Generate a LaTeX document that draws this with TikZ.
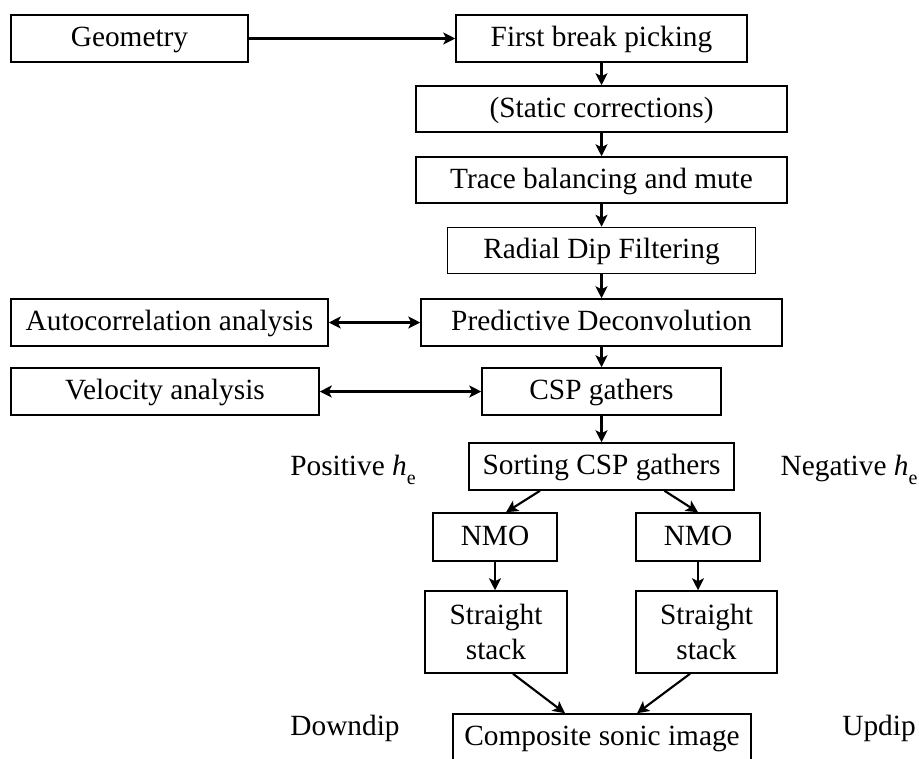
\documentclass[tikz,border=0pt]{standalone}
\usepackage{fontspec}
\setmainfont{Liberation Serif}
\usetikzlibrary{arrows.meta,calc}
\newcommand\pxu[1]{#1*0.75pt}
\newcommand\hsub{\textit{h}\raisebox{-0.28em}{\fontsize{15}{15}\selectfont e}}
\begin{document}
\begin{tikzpicture}[x=0.75pt,y=-0.75pt,
  every node/.style={font=\fontsize{22}{26}\selectfont},
  box/.style={draw,line width=1.15pt,inner sep=0pt,align=center,minimum height=\pxu{47}},
  oneline/.style={box,text height=15.8pt,text depth=3.3pt},
  lbl/.style={inner sep=0pt},
  flow/.style={line width=1.6pt,-{Stealth[length=9pt,width=9pt,inset=2.2pt]}},
  both/.style={line width=1.6pt,{Stealth[length=9pt,width=9pt,inset=2.2pt]}-{Stealth[length=9pt,width=9pt,inset=2.2pt]}}]
\useasboundingbox (0,0) rectangle (919,758);

% processing chain
\node[oneline,minimum width=\pxu{237}] (geo) at (129.5,38.5) {Geometry};
\node[oneline,minimum width=\pxu{291}] (fbp) at (601.5,38.5) {First break picking};
\node[oneline,minimum width=\pxu{371},minimum height=\pxu{46}] (stat) at (601.5,109) {(Static corrections)};
\node[oneline,minimum width=\pxu{371},minimum height=\pxu{46}] (trace) at (601.5,180) {Trace balancing and mute};
\node[oneline,minimum width=\pxu{308},minimum height=\pxu{46}] (radial) at (601.5,250.5) {Radial Dip Filtering};
\node[oneline,minimum width=\pxu{317}] (auto) at (169.5,322.5) {Autocorrelation analysis};
\node[oneline,minimum width=\pxu{361}] (pred) at (601.5,322.5) {Predictive Deconvolution};
\node[oneline,minimum width=\pxu{308}] (vel) at (165,391.5) {Velocity analysis};
\node[oneline,minimum width=\pxu{239}] (csp) at (601.5,391.5) {CSP gathers};
\node[oneline,minimum width=\pxu{265}] (sort) at (601.5,466.5) {Sorting CSP gathers};

% split into the two offset branches
\node[oneline,minimum width=\pxu{124},minimum height=\pxu{48}] (nmoL) at (495,537) {NMO};
\node[oneline,minimum width=\pxu{124},minimum height=\pxu{48}] (nmoR) at (698,537) {NMO};
\node[box,minimum width=\pxu{142},minimum height=\pxu{82}] (stackL) at (496,632) {Straight\\stack};
\node[box,minimum width=\pxu{141},minimum height=\pxu{82}] (stackR) at (706.5,632) {Straight\\stack};
\node[oneline,minimum width=\pxu{298}] (comp) at (602,737.5) {Composite sonic image};

% side labels
\node[lbl] (pos) at (353,470) {Positive \hsub};
\node[lbl] (neg) at (849,470) {Negative \hsub};
\node[lbl] (down) at (345,728) {Downdip};
\node[lbl] (up) at (879,728) {Updip};

% connectors
\draw[flow] (geo) -- (fbp);
\draw[flow] (fbp) -- (stat);
\draw[flow] (stat) -- (trace);
\draw[flow] (trace) -- (radial);
\draw[flow] (radial) -- (pred);
\draw[both] (auto) -- (pred);
\draw[flow] (pred) -- (csp);
\draw[both] (vel) -- (csp);
\draw[flow] (csp) -- (sort);
\draw[flow] ($(sort.south)+(-61.5,0)$) -- ($(nmoL.north)+(11,0)$);
\draw[flow] ($(sort.south)+(63,0)$) -- (nmoR.north);
\draw[flow] (nmoL.south) -- (nmoL.south |- stackL.north);
\draw[flow] (nmoR.south) -- (nmoR.south |- stackR.north);
\draw[flow] ($(stackL.south)+(17,0)$) -- ($(comp.north)+(-37,0)$);
\draw[flow] ($(stackR.south)+(-16.5,0)$) -- ($(comp.north)+(35,0)$);
\end{tikzpicture}
\end{document}
